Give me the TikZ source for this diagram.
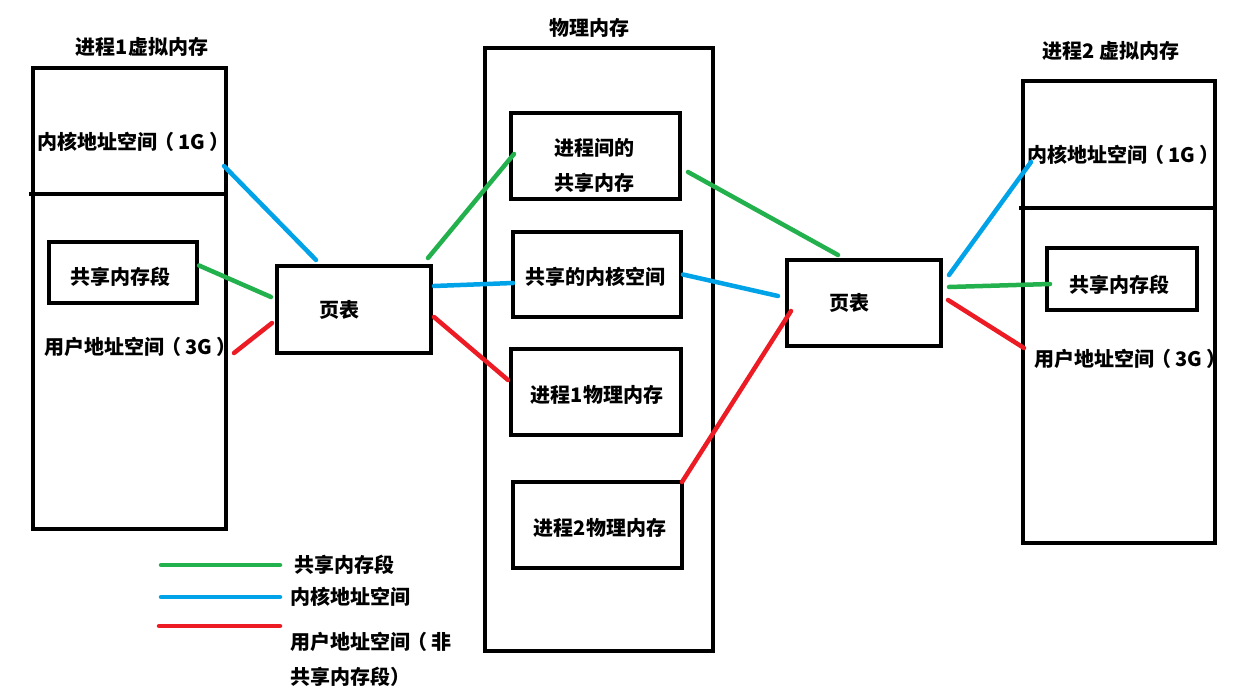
\documentclass[tikz,border=0pt]{standalone}
\usepackage{fontspec}
\setmainfont{Noto Sans CJK SC}
\usetikzlibrary{calc}
\definecolor{pgreen}{RGB}{34,177,76}
\definecolor{pblue}{RGB}{0,162,232}
\definecolor{pred}{RGB}{237,28,36}
\newcommand{\mypar}[1]{\kern-3pt（\kern4pt #1\kern4pt）}
\begin{document}
\begin{tikzpicture}[x=1pt,y=-1pt,
  box/.style={draw=black,line width=4pt,rectangle,inner sep=0pt},
  lbl/.style={inner sep=0pt,font=\fontsize{20}{24}\selectfont\bfseries},
  divider/.style={draw=black,line width=4pt},
  conn/.style={line width=4.5pt,line cap=round},
  gline/.style={conn,draw=pgreen},
  bline/.style={conn,draw=pblue},
  rline/.style={conn,draw=pred}]
\useasboundingbox[fill=white] (0,0) rectangle (1253,693);

% process 1 virtual memory
\node[lbl] (t1) at (142,47) {进程1虚拟内存};
\node[box,minimum width=193,minimum height=461] (v1) at (129.5,298.5) {};
\draw[divider] ($(v1.north west)+(-2,128)$) -- ($(v1.north east)+(0,128)$);
\node[lbl,anchor=west] (k1) at (37,142) {内核地址空间\mypar{1G}};
\node[box,minimum width=148,minimum height=61] (s1) at (123,272.5) {};
\node[lbl] (s1t) at (120,277) {共享内存段};
\node[lbl,anchor=west] (u1) at (44,347) {用户地址空间\mypar{3G}};

% page table 1
\node[box,minimum width=154,minimum height=87] (pt1) at (354,309.5) {};
\node[lbl] (pt1t) at (339,310) {页表};

% physical memory
\node[lbl] (t3) at (589,28) {物理内存};
\node[box,minimum width=228,minimum height=603] (pp) at (599,349.5) {};
\node[box,minimum width=169,minimum height=86] (pa) at (595.5,156) {};
\node[lbl,font=\fontsize{20}{35}\selectfont\bfseries,align=center] (pat) at (594,165) {进程间的\\共享内存};
\node[box,minimum width=168,minimum height=85] (pb) at (597,274.5) {};
\node[lbl] (pbt) at (595,277) {共享的内核空间};
\node[box,minimum width=170,minimum height=86] (pc) at (596,392) {};
\node[lbl] (pct) at (597,395) {进程1物理内存};
\node[box,minimum width=169,minimum height=86] (pd) at (597.5,525) {};
\node[lbl] (pdt) at (600,528) {进程2物理内存};

% page table 2
\node[box,minimum width=154,minimum height=86] (pt2) at (864,303) {};
\node[lbl] (pt2t) at (849,303) {页表};

% process 2 virtual memory
\node[lbl] (t2) at (1111,51) {进程2 虚拟内存};
\node[box,minimum width=192,minimum height=462] (v2) at (1119,312) {};
\draw[divider] ($(v2.north west)+(-2,129)$) -- ($(v2.north east)+(0,129)$);
\node[lbl,anchor=west] (k2) at (1027,155) {内核地址空间\mypar{1G}};
\node[box,minimum width=150,minimum height=62] (s2) at (1122,279) {};
\node[lbl] (s2t) at (1119,285) {共享内存段};
\node[lbl,anchor=west] (u2) at (1034,359) {用户地址空间\mypar{3G}};

% connectors process 1 side
\draw[bline] ($(v1.north east)+(-4,100)$) -- ($(pt1.north west)+(41,-4)$);
\draw[gline] ($(s1.east)+(0,-7)$) -- ($(pt1.west)+(-4,-12.5)$);
\draw[rline] ($(v1.east)+(6,54.5)$) -- ($(pt1.west)+(-3,13.5)$);

% page table 1 -> physical
\draw[gline] ($(pt1.north east)+(-5,-6)$) -- ($(pa.west)+(5,-2)$);
\draw[bline] ($(pt1.east)+(1,-23.5)$) -- ($(pb.west)+(2,8.5)$);
\draw[rline] ($(pt1.east)+(1,7.5)$) -- ($(pc.west)+(-1,-12)$);

% physical -> page table 2
\draw[gline] ($(pa.east)+(6,16)$) -- ($(pt2.north west)+(53,-3)$);
\draw[bline] (pb.east) -- ($(pt2.west)+(-7,-7)$);
\draw[rline] ($(pt2.west)+(6,8)$) -- ($(pd.north east)+(-2,2)$);

% page table 2 -> process 2
\draw[bline] ($(pt2.east)+(6,-28)$) -- ($(k2.west)+(4,7)$);
\draw[gline] ($(pt2.east)+(6,-16)$) -- ($(s2.west)+(5,5)$);
\draw[rline] ($(pt2.east)+(5,-3)$) -- ($(v2.west)+(3,36)$);

% legend
\node[lbl,anchor=west] (lt1) at (294,565) {共享内存段};
\node[lbl,anchor=west] (lt2) at (290,597) {内核地址空间};
\node[lbl,anchor=west] (lt3) at (290,642) {用户地址空间\kern-3pt（\kern4pt 非};
\node[lbl,anchor=west] (lt4) at (290,677) {共享内存段）};
\draw[gline] ($(lt1.west)+(-133,0)$) -- ($(lt1.west)+(-14,0)$);
\draw[bline] ($(lt2.west)+(-129,0)$) -- ($(lt2.west)+(-10,0)$);
\draw[rline] ($(lt3.west)+(-131,-16)$) -- ($(lt3.west)+(-10,-16)$);
\end{tikzpicture}
\end{document}
